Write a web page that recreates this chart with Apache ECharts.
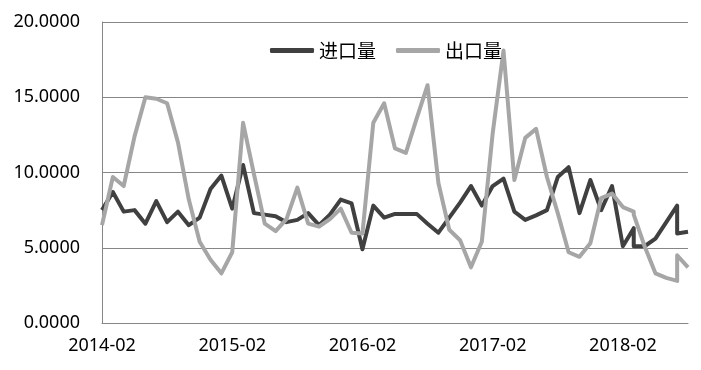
<!DOCTYPE html>
<html>
<head>
<meta charset="utf-8">
<script src="https://cdn.jsdelivr.net/npm/echarts@6/dist/echarts.min.js"></script>
<style>html,body{margin:0;padding:0;background:#fff;}#c{width:701px;height:370px;}</style>
</head>
<body>
<div id="c"></div>
<script>
// Dates (YYYY-MM); a few months carry two readings
var months = [
  '2014-02','2014-03','2014-04','2014-05','2014-06','2014-07','2014-08','2014-09','2014-10','2014-11','2014-12',
  '2015-01','2015-02','2015-03','2015-04','2015-05','2015-06','2015-07','2015-08','2015-09','2015-10','2015-11','2015-12',
  '2016-01','2016-02','2016-03','2016-04','2016-05','2016-06','2016-07','2016-08','2016-09','2016-10','2016-11','2016-12',
  '2017-01','2017-02','2017-03','2017-04','2017-05','2017-06','2017-07','2017-08','2017-09','2017-10','2017-11','2017-12',
  '2018-01','2018-02','2018-03','2018-03','2018-04','2018-05','2018-06','2018-07','2018-07','2018-08'
];
var importVals = [
  7.5, 8.7, 7.4, 7.5, 6.6, 8.1, 6.7, 7.4, 6.5, 7.0, 8.9,
  9.8, 7.6, 10.5, 7.3, 7.2, 7.1, 6.7, 6.85, 7.3, 6.5, 7.2, 8.2,
  7.95, 4.9, 7.8, 7.0, 7.25, 7.25, 7.25, 6.6, 6.0, 7.0, 8.0, 9.1,
  7.8, 9.1, 9.6, 7.4, 6.85, 7.15, 7.5, 9.7, 10.35, 7.3, 9.5, 7.5,
  9.1, 5.1, 6.3, 5.1, 5.1, 5.6, 6.7, 7.8, 5.95, 6.06
];
var exportVals = [
  6.5, 9.7, 9.1, 12.4, 15.0, 14.9, 14.6, 12.0, 8.2, 5.4, 4.2,
  3.3, 4.7, 13.3, 9.9, 6.6, 6.1, 6.9, 9.0, 6.6, 6.4, 6.9, 7.6,
  6.0, 5.95, 13.3, 14.6, 11.6, 11.3, 13.6, 15.8, 9.3, 6.2, 5.5, 3.7,
  5.4, 12.6, 18.1, 9.5, 12.3, 12.9, 9.7, 7.3, 4.7, 4.4, 5.3, 8.3,
  8.6, 7.7, 7.4, 7.2, 5.1, 3.3, 3.0, 2.8, 4.5, 3.7
];
var seriesNames = ['进口量', '出口量'];
var yTicks = [0, 5, 10, 15, 20];

var baseYear = 2014, baseMonth = 2;
function monthIndex(s) {
  var p = s.split('-');
  return (parseInt(p[0], 10) - baseYear) * 12 + (parseInt(p[1], 10) - baseMonth);
}
function indexLabel(v) {
  var t = baseMonth - 1 + Math.round(v);
  var y = baseYear + Math.floor(t / 12);
  var m = (t % 12) + 1;
  return y + '-' + (m < 10 ? '0' + m : m);
}
function pairs(vals) {
  return months.map(function (d, i) { return [monthIndex(d), vals[i]]; });
}
var xMax = monthIndex(months[months.length - 1]);

var chart = echarts.init(document.getElementById('c'));
chart.setOption({
  animation: false,
  backgroundColor: '#ffffff',
  grid: { left: 102, right: 13, top: 22, bottom: 47 },
  legend: {
    data: seriesNames,
    left: 265, top: 36,
    icon: 'roundRect',
    itemWidth: 44, itemHeight: 5,
    itemGap: 20,
    textStyle: { fontFamily: 'Noto Sans CJK SC', fontSize: 19, color: '#000', padding: [0, 0, 5, 0] }
  },
  xAxis: {
    type: 'value',
    min: 0, max: xMax, interval: 12,
    axisLine: { show: true, lineStyle: { color: '#868686', width: 1 } },
    axisTick: { show: false },
    splitLine: { show: false },
    axisLabel: {
      showMaxLabel: false,
      margin: 14,
      fontFamily: 'Noto Sans', fontSize: 18, color: '#000',
      formatter: indexLabel
    }
  },
  yAxis: {
    type: 'value',
    min: yTicks[0], max: yTicks[yTicks.length - 1], interval: yTicks[1] - yTicks[0],
    axisLine: { show: true, lineStyle: { color: '#868686', width: 1 } },
    axisTick: { show: false },
    splitLine: { show: true, lineStyle: { color: '#868686', width: 1 } },
    axisLabel: {
      margin: 22,
      fontFamily: 'Noto Sans', fontSize: 18, color: '#000',
      formatter: function (v) { return v.toFixed(4); }
    }
  },
  series: [
    {
      name: seriesNames[0], type: 'line', data: pairs(importVals),
      showSymbol: false, symbol: 'none',
      itemStyle: { color: '#404040' },
      lineStyle: { color: '#404040', width: 4, join: 'round' }
    },
    {
      name: seriesNames[1], type: 'line', data: pairs(exportVals),
      showSymbol: false, symbol: 'none',
      itemStyle: { color: '#a6a6a6' },
      lineStyle: { color: '#a6a6a6', width: 4, join: 'round' }
    }
  ]
});
</script>
</body>
</html>
